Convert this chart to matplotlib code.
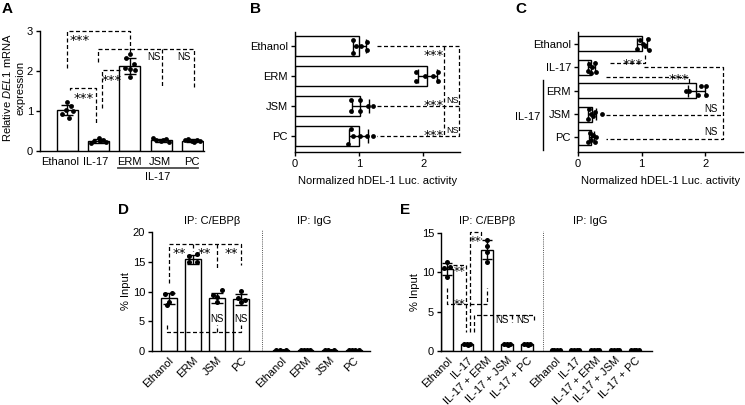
import numpy as np
import matplotlib
matplotlib.use('Agg')
import matplotlib.pyplot as plt

plt.rcParams['font.family'] = ['Liberation Sans', 'DejaVu Sans']
plt.rcParams['font.size'] = 8
plt.rcParams['mathtext.fontset'] = 'custom'
plt.rcParams['mathtext.rm'] = 'Liberation Sans'
plt.rcParams['mathtext.it'] = 'Liberation Sans:italic'
plt.rcParams['axes.linewidth'] = 1.0

# ---------------- data ----------------
a_labels = ['Ethanol', 'IL-17', 'ERM', 'JSM', 'PC']
a_means = [1.02, 0.26, 2.12, 0.27, 0.26]
a_sd = [0.12, 0.05, 0.20, 0.04, 0.03]
a_points = [[1.23, 1.12, 1.02, 1.00, 0.92, 0.82],
            [0.33, 0.28, 0.25, 0.22, 0.20, 0.24],
            [2.42, 2.32, 2.17, 2.07, 2.02, 1.86, 2.04],
            [0.30, 0.28, 0.25, 0.22, 0.33, 0.27],
            [0.28, 0.30, 0.25, 0.24, 0.27, 0.22]]

b_labels = ['Ethanol', 'ERM', 'JSM', 'PC']
b_means = [1.00, 2.06, 1.02, 0.99]
b_sd = [0.10, 0.15, 0.13, 0.15]
b_points = [[0.90, 0.90, 0.95, 1.03, 1.12, 1.12],
            [1.89, 1.89, 2.03, 2.15, 2.22, 2.22],
            [0.88, 0.88, 1.01, 1.01, 1.13, 1.22],
            [0.87, 0.90, 0.83, 1.02, 1.12, 1.22]]

c_labels = ['Ethanol', 'IL-17', 'ERM', 'JSM', 'PC']
c_means = [1.00, 0.21, 1.86, 0.22, 0.21]
c_sd = [0.08, 0.05, 0.13, 0.06, 0.04]
c_points = [[0.93, 0.97, 1.02, 1.05, 1.10, 1.12],
            [0.16, 0.18, 0.22, 0.26, 0.29, 0.20],
            [1.69, 1.75, 1.89, 1.93, 2.01, 2.01],
            [0.16, 0.18, 0.21, 0.23, 0.26, 0.37],
            [0.16, 0.19, 0.21, 0.24, 0.26, 0.28]]

d_labels = ['Ethanol', 'ERM', 'JSM', 'PC']
d_means = [8.85, 15.4, 8.9, 8.7]
d_sd = [0.9, 0.8, 0.9, 0.9]
d_points = [[9.6, 9.7, 8.3, 7.8],
            [16.3, 15.9, 14.9, 15.0],
            [10.25, 9.4, 9.1, 8.3],
            [10.1, 8.85, 8.6, 8.3]]
d_igg_means = [0.12, 0.12, 0.12, 0.12]
d_igg_points = [[0.10, 0.14, 0.08, 0.12],
                [0.10, 0.13, 0.09, 0.12],
                [0.11, 0.13, 0.08, 0.10],
                [0.10, 0.12, 0.09, 0.13]]

e_labels = ['Ethanol', 'IL-17', 'IL-17 + ERM', 'IL-17 + JSM', 'IL-17 + PC']
e_means = [10.4, 0.88, 12.85, 0.85, 0.85]
e_sd = [0.75, 0.07, 1.2, 0.05, 0.06]
e_points = [[11.3, 10.7, 10.5, 9.4],
            [0.95, 0.90, 0.85, 0.82],
            [14.1, 13.4, 12.6, 11.3],
            [0.88, 0.86, 0.84, 0.82],
            [0.90, 0.87, 0.84, 0.80]]
e_igg_means = [0.12, 0.12, 0.12, 0.12, 0.12]
e_igg_points = [[0.10, 0.14, 0.08, 0.12],
                [0.10, 0.13, 0.09, 0.12],
                [0.11, 0.13, 0.08, 0.10],
                [0.10, 0.12, 0.09, 0.13],
                [0.10, 0.12, 0.09, 0.11]]

# ---------------- layout helpers ----------------
W, H = 745, 405
fig = plt.figure(figsize=(W / 100, H / 100), dpi=100)


def add_ax(l, t, r, b):
    return fig.add_axes([l / W, 1 - b / H, (r - l) / W, (b - t) / H])


DASH = dict(color='black', lw=0.9, ls=(0, (3.2, 2.0)), clip_on=False)
STAR = 9.5
NSF = 7


def path(ax, pts):
    xs, ys = zip(*pts)
    ax.plot(xs, ys, **DASH)


def star(ax, x, y, s, size=STAR, ha='center'):
    # place asterisks so that their visual centre sits at (x, y)
    ax.annotate(s, (x, y), xytext=(0, -0.6 * size), textcoords='offset points',
                ha=ha, va='baseline', fontsize=size, annotation_clip=False,
                family='DejaVu Sans')


def style(ax):
    for s in ['top', 'right']:
        ax.spines[s].set_visible(False)
    ax.tick_params(direction='out', length=3, width=1.0, pad=2, labelsize=8)


def vbars(ax, xpos, means, sd, points, xoffs, width, ms=12, capsize=4):
    ax.bar(xpos, means, width=width, color='white', edgecolor='black', lw=1.0, zorder=2)
    for x, pts, offs in zip(xpos, points, xoffs):
        ax.scatter([x + o for o in offs[:len(pts)]], pts, s=ms, color='black', zorder=3, lw=0)
    if sd is not None:
        ax.errorbar(xpos, means, yerr=sd, fmt='none', ecolor='black', elinewidth=1.0,
                    capsize=capsize, capthick=1.0, zorder=4)


def hbars(ax, ypos, means, sd, points, yoffs, height, ms=12, capsize=4):
    ax.barh(ypos, means, height=height, color='white', edgecolor='black', lw=1.0, zorder=2)
    for y, pts, offs in zip(ypos, points, yoffs):
        ax.scatter(pts, [y + o for o in offs[:len(pts)]], s=ms, color='black', zorder=3, lw=0)
    ax.errorbar(means, ypos, xerr=sd, fmt='none', ecolor='black', elinewidth=1.0,
                capsize=capsize, capthick=1.0, zorder=4)


# ---------------- Panel A ----------------
axA = add_ax(40, 31, 204, 151)
style(axA)
xa = np.arange(len(a_labels))
a_off = [[0.0, 0.12, -0.05, 0.18, -0.18, 0.05],
         [0.0, 0.15, -0.15, 0.25, -0.25, 0.05],
         [0.0, -0.12, 0.12, -0.15, 0.15, 0.0, 0.0],
         [0.15, -0.15, 0.0, 0.25, -0.25, 0.05],
         [0.15, -0.15, 0.0, 0.25, -0.25, 0.05]]
vbars(axA, xa, a_means, a_sd, a_points, a_off, 0.67)
axA.set_xlim(-0.87, 4.37)
axA.set_ylim(0, 3)
axA.set_yticks([0, 1, 2, 3])
axA.set_xticks([-0.24, 0.9, 1.98, 2.96, 3.97])
axA.set_xticklabels(a_labels)
axA.tick_params(axis='x', length=0, pad=4)
fig.text(13 / W, 1 - 88 / H, 'Relative $\\it{DEL1}$ mRNA\nexpression', rotation=90,
         ha='center', va='center', fontsize=8, multialignment='center', linespacing=1.3)
axA.plot([1.61, 4.18], [-0.139, -0.139], transform=axA.get_xaxis_transform(),
         clip_on=False, color='#4a4a4a', lw=1.3)
axA.text(2.88, -0.217, 'IL-17', transform=axA.get_xaxis_transform(), ha='center',
         va='center', fontsize=8)
path(axA, [(0, 2.07), (0, 3.0), (2, 3.0), (2, 2.44)])
star(axA, 0.08, 2.88, '***', ha='left')
path(axA, [(0.1, 1.52), (0.1, 1.58), (0.92, 1.58), (0.92, 0.65)])
star(axA, 0.52, 1.42, '***')
path(axA, [(1.11, 1.07), (1.11, 2.02), (1.68, 2.02)])
star(axA, 1.42, 1.88, '***')
path(axA, [(0.99, 2.23), (0.99, 2.55), (4.05, 2.55), (4.05, 1.57)])
path(axA, [(3.03, 2.55), (3.03, 1.57)])
axA.text(2.97, 2.36, 'NS', ha='right', va='center', fontsize=NSF)
axA.text(3.95, 2.36, 'NS', ha='right', va='center', fontsize=NSF)

# ---------------- Panel B ----------------
axB = add_ax(295, 32, 460, 152)
style(axB)
yb = np.arange(len(b_labels))
b_off = [[-0.2, 0.22, 0.0, 0.0, -0.13, 0.13],
         [-0.13, 0.17, 0.0, 0.0, -0.13, 0.17],
         [-0.2, 0.15, -0.2, 0.15, 0.0, 0.0],
         [-0.23, 0.0, 0.25, 0.0, 0.0, 0.0]]
hbars(axB, yb, b_means, b_sd, b_points, b_off, 0.645, capsize=5)
axB.set_ylim(3.53, -0.47)
axB.set_xlim(0, 2.57)
axB.set_xticks([0, 1, 2])
axB.set_yticks(yb)
axB.set_yticklabels(b_labels)
axB.set_xlabel('Normalized hDEL-1 Luc. activity', fontsize=8, labelpad=5)
path(axB, [(1.28, 0), (2.55, 0), (2.55, 3), (1.28, 3)])
path(axB, [(2.32, 0), (2.32, 3)])
path(axB, [(1.28, 2), (2.55, 2)])
star(axB, 2.16, 0.18, '***')
star(axB, 2.16, 1.83, '***')
star(axB, 2.16, 2.83, '***')
axB.text(2.45, 1.82, 'NS', ha='center', va='center', fontsize=6.5)
axB.text(2.45, 2.82, 'NS', ha='center', va='center', fontsize=6.5)

# ---------------- Panel C ----------------
axC = add_ax(578, 32, 743, 152)
style(axC)
yc = np.arange(len(c_labels))
c_off = [[0.2, -0.15, 0.0, 0.1, -0.2, 0.25],
         [0.15, -0.15, 0.0, -0.2, 0.2, 0.25],
         [0.0, 0.0, 0.2, -0.2, -0.2, 0.2],
         [0.2, -0.2, 0.0, 0.1, -0.1, 0.0],
         [0.2, -0.2, 0.1, -0.1, 0.2, 0.0]]
hbars(axC, yc, c_means, c_sd, c_points, c_off, 0.64, capsize=4)
axC.set_ylim(4.62, -0.51)
axC.set_xlim(0, 2.59)
axC.set_xticks([0, 1, 2])
axC.set_yticks(yc)
axC.set_yticklabels(c_labels)
axC.set_xlabel('Normalized hDEL-1 Luc. activity', fontsize=8, labelpad=5)
path(axC, [(0.51, 0.82), (1.05, 0.82), (1.05, 0.4)])
star(axC, 0.86, 0.68, '***')
path(axC, [(0.44, 1.42), (1.75, 1.42), (1.75, 1.68)])
star(axC, 1.58, 1.32, '***')
path(axC, [(1.04, 1.0), (2.28, 1.0), (2.28, 4.05), (0.44, 4.05)])
path(axC, [(0.44, 3.03), (2.28, 3.03)])
axC.text(2.09, 2.78, 'NS', ha='center', va='center', fontsize=NSF)
axC.text(2.09, 3.78, 'NS', ha='center', va='center', fontsize=NSF)
axC.plot([-0.55, -0.55], [1.54, 4.53], color='black', lw=1.0, clip_on=False)
axC.text(-0.79, 3.12, 'IL-17', ha='center', va='center', fontsize=8)

# ---------------- Panel D ----------------
axD = add_ax(152, 232, 370, 351)
style(axD)
xd = np.arange(len(d_labels))
xd_igg = xd + 4.65
d_off = [[-0.15, 0.15, 0.0, -0.05], [0.15, -0.15, -0.15, 0.15],
         [0.2, -0.15, 0.0, 0.0], [0.0, -0.15, 0.15, 0.0]]
vbars(axD, xd, d_means, d_sd, d_points, d_off, 0.65, ms=13, capsize=4)
igg_off = [[-0.2, -0.07, 0.07, 0.2]] * 4
vbars(axD, xd_igg, d_igg_means, None, d_igg_points, igg_off, 0.65, ms=13)
axD.set_xlim(-0.69, 8.32)
axD.set_ylim(0, 20)
axD.set_yticks([0, 5, 10, 15, 20])
axD.set_xticks(list(xd) + list(xd_igg))
axD.set_xticklabels(d_labels + d_labels, rotation=45, ha='right', rotation_mode='anchor')
axD.tick_params(axis='x', length=0, pad=3)
axD.set_ylabel('% Input', fontsize=8, labelpad=1)
axD.plot([3.86, 3.86], [0, 20.3], color='#555555', lw=0.7, ls=(0, (1, 1.2)), clip_on=False)
axD.text(1.8, 1.09, 'IP: C/EBPβ', transform=axD.get_xaxis_transform(), ha='center',
         va='center', fontsize=8)
axD.text(6.0, 1.09, 'IP: IgG', transform=axD.get_xaxis_transform(), ha='center',
         va='center', fontsize=8)
path(axD, [(0.03, 11.4), (0.03, 18.0), (2.97, 18.0), (2.97, 14.45)])
path(axD, [(1.0, 18.0), (1.0, 16.8)])
path(axD, [(2.0, 18.0), (2.0, 13.9)])
star(axD, 0.42, 17.2, '**')
star(axD, 1.48, 17.2, '**')
star(axD, 2.6, 17.2, '**')
path(axD, [(-0.08, 4.4), (-0.08, 3.25), (3.0, 3.25), (3.0, 4.4)])
path(axD, [(2.0, 3.25), (2.0, 4.4)])
axD.text(1.98, 5.3, 'NS', ha='center', va='center', fontsize=NSF)
axD.text(2.98, 5.3, 'NS', ha='center', va='center', fontsize=NSF)

# ---------------- Panel E ----------------
axE = add_ax(441, 233, 652, 351)
style(axE)
xe = np.arange(len(e_labels))
xe_igg = xe + 5.45
e_off = [[0.0, 0.15, -0.15, 0.0], [-0.15, 0.0, 0.15, 0.05],
         [0.0, 0.0, 0.0, 0.0], [-0.15, 0.0, 0.15, 0.05], [-0.15, 0.0, 0.15, 0.05]]
vbars(axE, xe, e_means, e_sd, e_points, e_off, 0.6, ms=13, capsize=3.5)
igg_off_e = [[-0.2, -0.07, 0.07, 0.2]] * 5
vbars(axE, xe_igg, e_igg_means, None, e_igg_points, igg_off_e, 0.6, ms=13)
axE.set_xlim(-0.31, 10.3)
axE.set_ylim(0, 15)
axE.set_yticks([0, 5, 10, 15])
axE.set_xticks(list(xe) + list(xe_igg))
axE.set_xticklabels(e_labels + e_labels, rotation=45, ha='right', rotation_mode='anchor')
axE.tick_params(axis='x', length=0, pad=3)
axE.set_ylabel('% Input', fontsize=8, labelpad=1)
axE.plot([4.84, 4.84], [0, 15.2], color='#555555', lw=0.7, ls=(0, (1, 1.2)), clip_on=False)
axE.text(2.0, 1.10, 'IP: C/EBPβ', transform=axE.get_xaxis_transform(), ha='center',
         va='center', fontsize=8)
axE.text(7.2, 1.10, 'IP: IgG', transform=axE.get_xaxis_transform(), ha='center',
         va='center', fontsize=8)
path(axE, [(1.16, 2.46), (1.16, 15.1), (1.72, 15.1), (1.72, 14.3)])
star(axE, 1.45, 14.4, '**', size=8.5)
path(axE, [(0.29, 10.9), (0.96, 10.9), (0.96, 2.46)])
star(axE, 0.62, 10.6, '**', size=8.5)
path(axE, [(0.0, 7.97), (0.0, 5.93), (2.02, 5.93), (2.02, 7.97)])
star(axE, 0.62, 6.4, '**', size=8.5)
path(axE, [(1.35, 2.46), (1.35, 4.58), (4.37, 4.58), (4.37, 3.73)])
path(axE, [(3.26, 4.58), (3.26, 3.73)])
axE.text(2.73, 3.95, 'NS', ha='center', va='center', fontsize=NSF)
axE.text(3.8, 3.95, 'NS', ha='center', va='center', fontsize=NSF)

# ---------------- panel letters ----------------
for lab, x, y in [('A', 2, 9), ('B', 250, 9), ('C', 515, 9), ('D', 118, 210), ('E', 400, 210)]:
    fig.text(x / W, 1 - y / H, lab, fontsize=11, fontweight='bold', ha='left', va='center')

fig.savefig('out.png', dpi=100)
